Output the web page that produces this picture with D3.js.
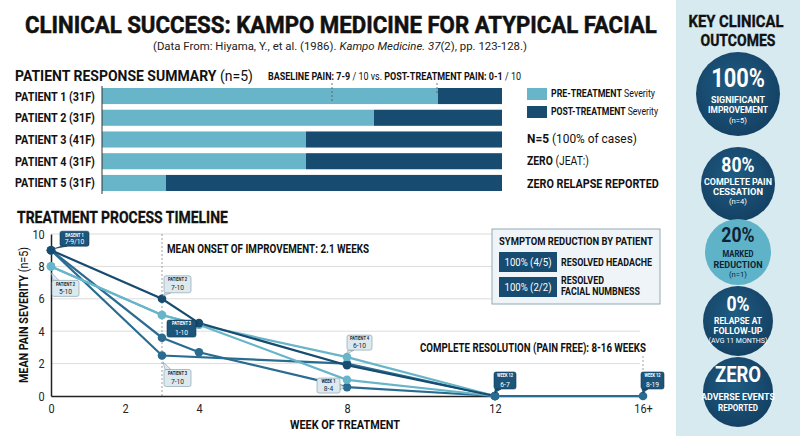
<!DOCTYPE html>
<html>
<head>
<meta charset="utf-8">
<script src="https://cdn.jsdelivr.net/npm/d3@7"></script>
<style>
  html, body { margin: 0; padding: 0; background: #fff; }
  svg text { font-family: Roboto, 'Liberation Sans', sans-serif; }
</style>
</head>
<body>
<div id="chart"></div>
<script>
// Patient response summary (bar chart)
var patients = ["PATIENT 1 (31F)", "PATIENT 2 (31F)", "PATIENT 3 (41F)", "PATIENT 4 (31F)", "PATIENT 5 (31F)"];
var preSeverity = [84, 68, 51, 51, 16];
var postSeverity = [16, 32, 49, 49, 84];

// Treatment timeline (line chart)
var weeks = [0, 3, 4, 8, 12, 16];
var weekTicks = [0, 2, 4, 8, 12, 16];
var weekTickLabels = ["0", "2", "4", "8", "12", "16+"];
var painTicks = [0, 2, 4, 6, 8, 10];
var seriesA = [9, 6, 4.5, 1.9, 0, null];
var seriesB = [8, 5, 4.4, 2.4, 0, null];
var seriesC = [9, 3.6, 2.7, 0.55, 0, null];
var seriesD = [9, 2.5, null, 2.0, 0, null];
var seriesE = [8, 5, 4.4, 1.0, 0, null];
var followUp = [null, null, null, null, 0, 0];

// Key outcomes (right panel)
var outcomeValues = ["100%", "80%", "20%", "0%", "ZERO"];
var outcomeLabels = [["SIGNIFICANT", "IMPROVEMENT"], ["COMPLETE PAIN", "CESSATION"], ["MARKED", "REDUCTION"], ["RELAPSE AT", "FOLLOW-UP"], ["ADVERSE EVENTS", "REPORTED"]];
var outcomeNotes = ["(n=5)", "(n=4)", "(n=1)", "(AVG 11 MONTHS)", ""];

var w = 800, h = 436;
var dark = "#174b6f", mid = "#2a6c91", light = "#68b5ca", ink = "#111";
var squeezeFactor = 0.84; // the original uses a condensed face

var svg = d3.select("#chart").append("svg")
    .attr("width", w).attr("height", h);

// squeeze a text horizontally around its own anchor point
function squeeze(t, k) {
    var tx = +t.attr("x") || 0, ty = +t.attr("y") || 0;
    t.attr("x", 0).attr("y", 0)
        .attr("transform", "translate(" + tx + "," + ty + ") scale(" + k + ",1)")
        .attr("data-done", 1);
}

// mixed bold / normal text, one <text> per part, squeezed to a target width
function richText(sel, x, y, parts, size, anchor, width, color) {
    var g = sel.append("g");
    var nodes = parts.map(function(p) {
        return g.append("text").attr("y", y)
            .attr("font-size", size).attr("fill", color || ink)
            .attr("xml:space", "preserve")
            .attr("font-weight", p[1] ? "bold" : "normal")
            .attr("font-style", p[2] ? "italic" : "normal")
            .text(p[0]);
    });
    var lens = nodes.map(function(n) { return n.node().getComputedTextLength(); });
    var total = d3.sum(lens);
    var k = width ? width / total : squeezeFactor;
    var x0 = anchor === "middle" ? x - total * k / 2 : anchor === "end" ? x - total * k : x;
    nodes.forEach(function(n, i) {
        n.attr("x", x0);
        squeeze(n, k);
        x0 += lens[i] * k;
    });
    return g;
}

// ---------- titles ----------
richText(svg, 341, 33, [["CLINICAL SUCCESS: KAMPO MEDICINE FOR ATYPICAL FACIAL", 1]], 23.5, "middle", 632)
    .attr("stroke", ink).attr("stroke-width", 0.5);
richText(svg, 340, 50, [["(Data From: Hiyama, Y., et al. (1986). ", 0], ["Kampo Medicine. 37", 0, 1], ["(2), pp. 123-128.)", 0]], 11.5, "middle", 374, "#222");

richText(svg, 15, 81, [["PATIENT RESPONSE SUMMARY ", 1], ["(n=5)", 0]], 15.5, "start", 238);
richText(svg, 268, 80, [["BASELINE PAIN: 7-9", 1], [" / 10 vs. ", 0], ["POST-TREATMENT PAIN: 0-1", 1], [" / 10", 0]], 10, "start", 253);

// ---------- bar chart ----------
var xBar = d3.scaleLinear().domain([0, 100]).range([102, 502]);
var yBar = d3.scaleBand().domain(patients).range([88, 191]).paddingInner(0.26).paddingOuter(0);

svg.selectAll(".pre").data(patients).enter().append("rect")
    .attr("x", xBar(0))
    .attr("y", function(d) { return yBar(d); })
    .attr("width", function(d, i) { return xBar(preSeverity[i]) - xBar(0); })
    .attr("height", yBar.bandwidth())
    .attr("fill", light);

svg.selectAll(".post").data(patients).enter().append("rect")
    .attr("x", function(d, i) { return xBar(preSeverity[i]); })
    .attr("y", function(d) { return yBar(d); })
    .attr("width", function(d, i) { return xBar(preSeverity[i] + postSeverity[i]) - xBar(preSeverity[i]); })
    .attr("height", yBar.bandwidth())
    .attr("fill", dark);

svg.selectAll(".plabel").data(patients).enter().append("text")
    .attr("x", 15)
    .attr("y", function(d) { return yBar(d) + yBar.bandwidth() / 2 + 4.5; })
    .attr("font-size", 12).attr("font-weight", "bold").attr("fill", ink)
    .attr("data-w", 80)
    .text(function(d) { return d; });

svg.append("line").attr("x1", xBar(0)).attr("x2", xBar(0))
    .attr("y1", 86).attr("y2", 194).attr("stroke", "#333").attr("stroke-width", 1);

// dashed markers hanging from the header
[[57.5, 103], [83.75, 95]].forEach(function(m) {
    svg.append("line").attr("x1", xBar(m[0])).attr("x2", xBar(m[0]))
        .attr("y1", 83).attr("y2", m[1])
        .attr("stroke", "#555").attr("stroke-width", 0.8).attr("stroke-dasharray", "2,2");
});

// legend
var legend = [["PRE-TREATMENT", light], ["POST-TREATMENT", dark]];
legend.forEach(function(l, i) {
    svg.append("rect").attr("x", 527).attr("y", 88 + i * 18).attr("width", 20).attr("height", 12).attr("fill", l[1]);
    richText(svg, 551, 97 + i * 18, [[l[0], 1], [" Severity", 0]], 10.5, "start", i ? 107 : 104);
});
richText(svg, 527, 143, [["N=5", 1], [" (100% of cases)", 0]], 12.5, "start", 110);
richText(svg, 527, 165, [["ZERO", 1], [" (JEAT:)", 0]], 12.5, "start", 62);
richText(svg, 527, 188, [["ZERO RELAPSE REPORTED", 1]], 12.5, "start", 132);

// ---------- line chart ----------
richText(svg, 17, 223, [["TREATMENT PROCESS TIMELINE", 1]], 16, "start", 211)
    .attr("stroke", ink).attr("stroke-width", 0.3);

var x = d3.scaleLinear().domain([0, 16]).range([51, 643]);
var y = d3.scaleLinear().domain([0, 10]).range([396, 234]);

// grid
svg.selectAll(".grid").data(painTicks.slice(1)).enter().append("line")
    .attr("x1", x(0)).attr("x2", 640)
    .attr("y1", function(d) { return y(d); }).attr("y2", function(d) { return y(d); })
    .attr("stroke", "#dcdcdc").attr("stroke-width", 1);

// reference lines
svg.append("line").attr("x1", x(3)).attr("x2", x(3)).attr("y1", y(10)).attr("y2", y(0))
    .attr("stroke", "#888").attr("stroke-width", 0.8).attr("stroke-dasharray", "2,2");
svg.append("line").attr("x1", x(16)).attr("x2", x(16)).attr("y1", 356).attr("y2", y(0))
    .attr("stroke", "#888").attr("stroke-width", 0.8).attr("stroke-dasharray", "2,2");

// axes
var xAxis = d3.axisBottom(x).tickValues(weekTicks).tickSize(0)
    .tickFormat(function(d, i) { return weekTickLabels[i]; });
var gx = svg.append("g").attr("transform", "translate(0," + y(0) + ")").call(xAxis);
gx.select(".domain").attr("stroke", "#222").attr("stroke-width", 1.5);
gx.selectAll("text").attr("font-size", 13).attr("fill", "#222").attr("dy", "1.05em")
    .style("font-family", "Roboto, sans-serif");

var yAxis = d3.axisLeft(y).tickValues(painTicks).tickSize(0);
var gy = svg.append("g").attr("transform", "translate(" + x(0) + ",0)").call(yAxis);
gy.select(".domain").attr("stroke", "#222").attr("stroke-width", 1.5);
gy.selectAll("text").attr("font-size", 13).attr("fill", "#222").attr("dx", "-0.3em")
    .style("font-family", "Roboto, sans-serif");

richText(svg, 345, 429, [["WEEK OF TREATMENT", 1]], 13.5, "middle", 110);
richText(svg, 0, 0, [["MEAN PAIN SEVERITY ", 1], ["(n=5)", 0]], 13.5, "middle", 136)
    .attr("transform", "translate(28,315) rotate(-90)");

// annotations
richText(svg, 167, 253, [["MEAN ONSET OF IMPROVEMENT: 2.1 WEEKS", 1]], 12, "start", 202);
richText(svg, 420, 352, [["COMPLETE RESOLUTION (PAIN FREE): 8-16 WEEKS", 1]], 12, "start", 226);

// series lines
var series = [
    { values: seriesC, color: mid },
    { values: seriesD, color: mid },
    { values: seriesE, color: light },
    { values: seriesB, color: light },
    { values: seriesA, color: dark },
    { values: followUp, color: mid }
];
var line = d3.line().x(function(d) { return x(d.week); }).y(function(d) { return y(d.value); });

series.forEach(function(s) {
    var pts = [];
    s.values.forEach(function(v, i) { if (v !== null) pts.push({ week: weeks[i], value: v }); });
    s.pts = pts;
    svg.append("path").datum(pts).attr("d", line)
        .attr("fill", "none").attr("stroke", s.color).attr("stroke-width", 2.2);
});
series.forEach(function(s) {
    svg.selectAll(null).data(s.pts).enter().append("circle")
        .attr("cx", function(d) { return x(d.week); })
        .attr("cy", function(d) { return y(d.value); })
        .attr("r", 4.3).attr("fill", s.color);
});

// callout boxes
var callouts = [
    { week: 0, value: 9, top: "BASENT 1", bottom: "7-9/10", dx: 9, dy: -19, bw: 29, bh: 15, dark: true },
    { week: 0, value: 8, top: "PATIENT 2", bottom: "5-10", dx: 1, dy: 14, bw: 27, bh: 16 },
    { week: 3, value: 6, top: "PATIENT 2", bottom: "7-10", dx: 2, dy: -23, bw: 27, bh: 17 },
    { week: 4, value: 4.5, top: "PATIENT 3", bottom: "1-10", dx: -32, dy: -3, bw: 29, bh: 17, dark: true },
    { week: 3, value: 2.5, top: "PATIENT 3", bottom: "7-10", dx: 2, dy: 14, bw: 27, bh: 17 },
    { week: 8, value: 0.55, top: "WEEK 1", bottom: "8-4", dx: -30, dy: -9, bw: 23, bh: 15 },
    { week: 8, value: 2.4, top: "PATIENT 4", bottom: "6-10", dx: 0, dy: -22, bw: 25, bh: 15 },
    { week: 12, value: 0, top: "WEEK 12", bottom: "6-7", dx: -1, dy: -24, bw: 22, bh: 17, dark: true },
    { week: 16, value: 0, top: "WEEK 12", bottom: "8-19", dx: -2, dy: -24, bw: 23, bh: 17, dark: true }
];
callouts.forEach(function(c) {
    var px = x(c.week), py = y(c.value);
    var bx = px + c.dx, by = py + c.dy;
    var fill = c.dark ? "#1d5479" : "#dce9ef";
    var stroke = c.dark ? "#0f3a58" : "#8098a6";
    var txt = c.dark ? "#fff" : "#1b2b36";
    // pointer from the nearest box edge toward the point
    var cx = Math.max(bx, Math.min(px, bx + c.bw));
    var cy = Math.max(by, Math.min(py, by + c.bh));
    var horizontal = (cy === by || cy === by + c.bh);
    var b1, b2;
    if (horizontal) {
        var mx = Math.max(bx + 4, Math.min(cx, bx + c.bw - 4));
        b1 = [mx - 3, cy]; b2 = [mx + 3, cy];
    } else {
        var my = Math.max(by + 4, Math.min(cy, by + c.bh - 4));
        b1 = [cx, my - 3]; b2 = [cx, my + 3];
    }
    var ax = px + (cx - px) * 0.45, ay = py + (cy - py) * 0.45;
    svg.append("path").attr("d", "M" + b1 + "L" + [ax, ay] + "L" + b2 + "Z")
        .attr("fill", fill).attr("stroke", stroke).attr("stroke-width", 0.6);
    svg.append("rect").attr("x", bx).attr("y", by).attr("width", c.bw).attr("height", c.bh)
        .attr("rx", 2).attr("fill", fill).attr("stroke", stroke).attr("stroke-width", 0.6);
    svg.append("text").attr("x", bx + c.bw / 2).attr("y", by + 5.3)
        .attr("text-anchor", "middle").attr("font-size", 4.8).attr("font-weight", "bold")
        .attr("fill", txt).text(c.top);
    svg.append("text").attr("x", bx + c.bw / 2).attr("y", by + c.bh - 2.5)
        .attr("text-anchor", "middle").attr("font-size", 8)
        .attr("fill", txt).text(c.bottom);
});

// symptom reduction box
svg.append("rect").attr("x", 492).attr("y", 229).attr("width", 168).attr("height", 75)
    .attr("fill", "#eef4f7").attr("stroke", "#93a8b5").attr("stroke-width", 1);
richText(svg, 499, 245, [["SYMPTOM REDUCTION BY PATIENT", 1]], 11.5, "start", 154);
var badges = [["100% (4/5)", ["RESOLVED HEADACHE"], [91]], ["100% (2/2)", ["RESOLVED", "FACIAL NUMBNESS"], [43, 79]]];
badges.forEach(function(b, i) {
    var by = 252 + i * 25;
    svg.append("rect").attr("x", 499).attr("y", by).attr("width", 58).attr("height", 20).attr("fill", dark);
    svg.append("text").attr("x", 528).attr("y", by + 14).attr("text-anchor", "middle")
        .attr("font-size", 11).attr("fill", "#fff").attr("data-w", 47).text(b[0]);
    b[1].forEach(function(t, j) {
        svg.append("text").attr("x", 561)
            .attr("y", b[1].length === 1 ? by + 14 : by + 7 + j * 11)
            .attr("font-size", 11).attr("font-weight", "bold").attr("fill", ink)
            .attr("data-w", b[2][j]).text(t);
    });
});

// ---------- right panel ----------
svg.append("rect").attr("x", 676).attr("y", 0).attr("width", 124).attr("height", h).attr("fill", "#d7eaf0");
richText(svg, 736, 27, [["KEY CLINICAL", 1]], 16, "middle", 95).attr("stroke", ink).attr("stroke-width", 0.35);
richText(svg, 738, 46, [["OUTCOMES", 1]], 16, "middle", 75).attr("stroke", ink).attr("stroke-width", 0.35);

var grad = svg.append("defs").append("radialGradient").attr("id", "circ").attr("cx", "45%").attr("cy", "40%").attr("r", "65%");
grad.append("stop").attr("offset", "0%").attr("stop-color", "#1f5c83");
grad.append("stop").attr("offset", "100%").attr("stop-color", "#133f61");

var circles = [
    { cy: 94, r: 42, big: 26, top: 87, lw: [54, 60], nw: 18, step: [16, 26, 36] },
    { cy: 184, r: 37, big: 21, top: 172, lw: [68, 50], nw: 18, step: [13, 23, 32] },
    { cy: 252, r: 33, big: 21, top: 242, lw: [31, 49], nw: 18, step: [15, 26, 35] },
    { cy: 321, r: 35, big: 21, top: 311, lw: [48, 49], nw: 59, step: [13, 23, 32] },
    { cy: 392, r: 35, big: 22, top: 382, lw: [74, 40], nw: 0, step: [18, 29, 0] }
];
circles.forEach(function(c, i) {
    var isLight = i === 2;
    svg.append("circle").attr("cx", 738).attr("cy", c.cy).attr("r", c.r)
        .attr("fill", isLight ? "#5fb3c9" : "url(#circ)");
    var col = isLight ? "#0f2233" : "#fff";
    svg.append("text").attr("x", 738).attr("y", c.top).attr("text-anchor", "middle")
        .attr("font-size", c.big).attr("font-weight", "bold").attr("fill", col).text(outcomeValues[i]);
    outcomeLabels[i].forEach(function(t, j) {
        svg.append("text").attr("x", 738).attr("y", c.top + c.step[j]).attr("text-anchor", "middle")
            .attr("font-size", 9.5).attr("font-weight", "bold").attr("fill", col)
            .attr("data-w", c.lw[j]).text(t);
    });
    if (outcomeNotes[i]) {
        svg.append("text").attr("x", 738).attr("y", c.top + c.step[2]).attr("text-anchor", "middle")
            .attr("font-size", i === 3 ? 7 : 7.5).attr("fill", col)
            .attr("data-w", c.nw).text(outcomeNotes[i]);
    }
});

// condense every remaining text to the narrow look of the original
svg.selectAll("text").each(function() {
    var t = d3.select(this);
    if (t.attr("data-done")) return;
    var natural = this.getComputedTextLength();
    var k = t.attr("data-w") ? +t.attr("data-w") / natural : squeezeFactor;
    squeeze(t, k);
});
</script>
</body>
</html>
